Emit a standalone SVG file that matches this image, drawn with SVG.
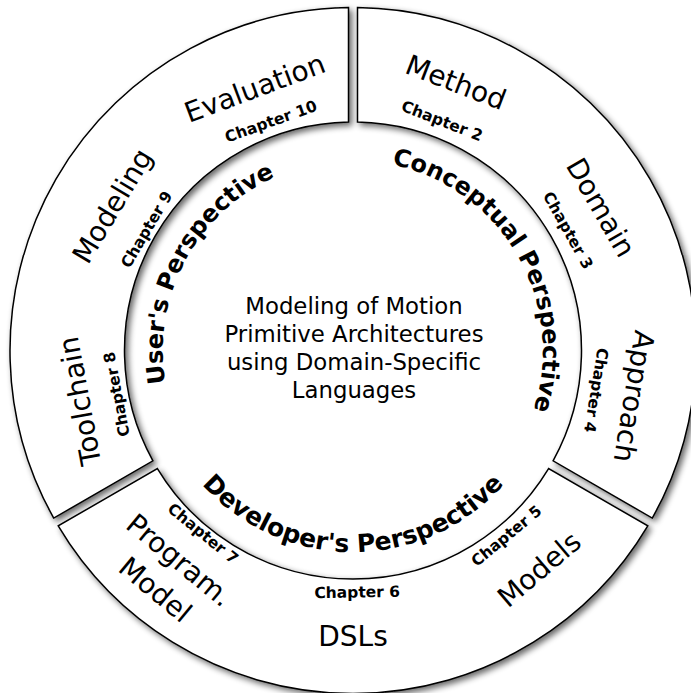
<svg xmlns="http://www.w3.org/2000/svg" width="691" height="693" viewBox="0 0 691 693">
<defs>
<filter id="sh" x="-10%" y="-10%" width="125%" height="125%">
<feGaussianBlur in="SourceAlpha" stdDeviation="3"/>
<feOffset dx="3" dy="3"/>
<feComponentTransfer><feFuncA type="linear" slope="0.6"/></feComponentTransfer>
<feMerge><feMergeNode/><feMergeNode in="SourceGraphic"/></feMerge>
</filter>
<path id="pUser" d="M 249.5,509.9 A 190 190 0 0 1 427.2,175.6"/>
<path id="pConc" d="M 272.7,178.3 A 190 190 0 0 1 462.0,506.1"/>
<path id="pDev" d="M 151.8,368.1 A 202 202 0 0 0 554.2,368.1"/>
</defs>
<style>
.sec{fill:#fff;stroke:#000;stroke-width:1.5;filter:url(#sh)}
.big{font-family:"DejaVu Sans",sans-serif;font-size:28px;text-anchor:middle;fill:#000}
.ch{font-family:"DejaVu Sans",sans-serif;font-size:15.5px;font-weight:bold;text-anchor:middle;fill:#000}
.per{font-family:"DejaVu Sans",sans-serif;font-size:24px;font-weight:bold;text-anchor:middle;fill:#000}
.title{font-family:"DejaVu Sans",sans-serif;font-size:22.8px;text-anchor:middle;fill:#000}
</style>
<rect width="691" height="693" fill="#fff"/>
<g id="users-perspective">
<path class="sec" d="M 53.73,518.09 A 343 343 0 0 1 348.5,7.53 L 348.5,122.04 A 228.5 228.5 0 0 0 152.90,460.83 Z"/>
<text class="big" x="353" y="80" transform="rotate(-20.5 353 350.5)">Evaluation</text>
<text class="big" x="353" y="79.5" transform="rotate(-59 353 350.5)">Modeling</text>
<text class="big" x="353" y="82.5" transform="rotate(-100.5 353 350.5)">Toolchain</text>
<text class="ch" x="353" y="112.5" transform="rotate(-19.7 353 350.5)">Chapter 10</text>
<text class="ch" x="353" y="116.5" transform="rotate(-59.6 353 350.5)">Chapter 9</text>
<text class="ch" x="353" y="115.5" transform="rotate(-100.5 353 350.5)">Chapter 8</text>
<text class="per"><textPath href="#pUser" startOffset="50%">User's Perspective</textPath></text>
</g>
<g id="conceptual-perspective">
<path class="sec" d="M 357.5,7.53 A 343 343 0 0 1 652.27,518.09 L 553.10,460.83 A 228.5 228.5 0 0 0 357.5,122.04 Z"/>
<text class="big" x="353" y="73" transform="rotate(21 353 350.5)">Method</text>
<text class="big" x="353" y="74" transform="rotate(60 353 350.5)">Domain</text>
<text class="big" x="353" y="75.5" transform="rotate(99.3 353 350.5)">Approach</text>
<text class="ch" x="353" y="109.5" transform="rotate(21.2 353 350.5)">Chapter 2</text>
<text class="ch" x="353" y="109.5" transform="rotate(60.8 353 350.5)">Chapter 3</text>
<text class="ch" x="353" y="109.5" transform="rotate(99.3 353 350.5)">Chapter 4</text>
<text class="per"><textPath href="#pConc" startOffset="50%">Conceptual Perspective</textPath></text>
</g>
<g id="developers-perspective">
<path class="sec" d="M 647.77,525.88 A 343 343 0 0 1 58.23,525.88 L 157.40,468.63 A 228.5 228.5 0 0 0 548.60,468.63 Z"/>
<text class="big" x="353" y="645.5">DSLs</text>
<text class="big" x="353" y="647.5" transform="rotate(-40.4 353 350.5)">Models</text>
<text class="big" transform="rotate(39.6 353 350.5)"><tspan x="353" y="632.5">Program.</tspan><tspan x="353" y="670.5">Model</tspan></text>
<text class="ch" x="353" y="596.5" transform="rotate(-39.6 353 350.5)">Chapter 5</text>
<text class="ch" x="353" y="597.5" transform="rotate(-1 353 350.5)">Chapter 6</text>
<text class="ch" x="353" y="592.5" transform="rotate(39.3 353 350.5)">Chapter 7</text>
<text class="per" style="font-size:25px"><textPath href="#pDev" startOffset="50%">Developer's Perspective</textPath></text>
</g>
<g id="title">
<text class="title"><tspan x="354" y="314">Modeling of Motion</tspan><tspan x="354" y="342">Primitive Architectures</tspan><tspan x="354" y="370">using Domain-Specific</tspan><tspan x="354" y="398">Languages</tspan></text>
</g>
</svg>
